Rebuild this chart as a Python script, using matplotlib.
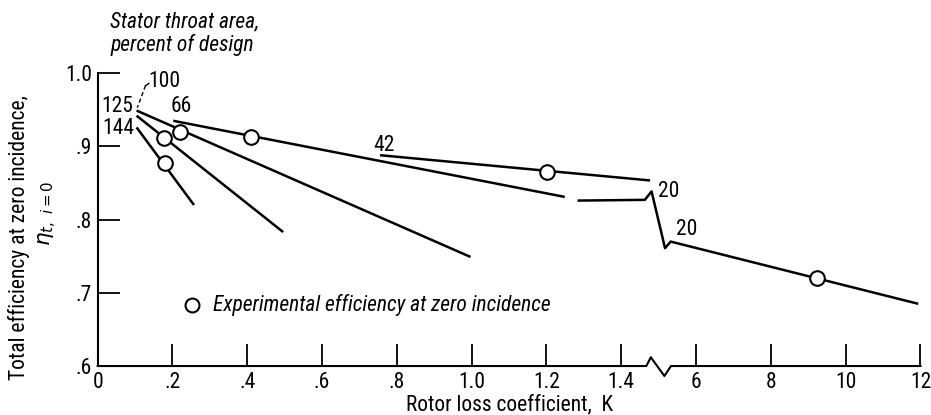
import numpy as np
import matplotlib
matplotlib.use("Agg")
import matplotlib.pyplot as plt
from matplotlib import font_manager as fm
from matplotlib.ticker import FixedLocator, FixedFormatter

# ---------------- data ----------------
# Lines of constant stator throat area (percent of design)
k_144 = [0.104, 0.2575]
e_144 = [0.926, 0.820]
k_125 = [0.104, 0.496]
e_125 = [0.942, 0.783]
k_100 = [0.104, 0.997]
e_100 = [0.949, 0.749]
k_66 = [0.202, 1.249]
e_66 = [0.935, 0.831]
k_42 = [0.755, 1.477]
e_42 = [0.888, 0.8535]
k_20 = [1.283, 1.463, 1.481, 5.17, 5.32, 11.94]
e_20 = [0.826, 0.827, 0.8385, 0.761, 0.770, 0.685]

# Experimental efficiency at zero incidence
k_exp = [0.18, 0.178, 0.22, 0.409, 1.2005, 9.24]
e_exp = [0.877, 0.912, 0.920, 0.9135, 0.865, 0.720]

x_ticks = [0, 0.2, 0.4, 0.6, 0.8, 1.0, 1.2, 1.4, 6, 8, 10, 12]
x_ticklabels = ["0", ".2", ".4", ".6", ".8", "1.0", "1.2", "1.4", "6", "8", "10", "12"]
y_ticks = [0.6, 0.7, 0.8, 0.9, 1.0]
y_ticklabels = [".6", ".7", ".8", ".9", "1.0"]

# axis break (baseline zig-zag) in K units
brk_k = [1.467, 1.479, 5.152, 5.33]
brk_e = [0.6, 0.612, 0.5864, 0.6]

# ---------------- font choice ----------------
def pick_font():
    for fam in ["Liberation Sans Narrow", "Roboto Condensed", "Open Sans Condensed"]:
        try:
            fm.findfont(fm.FontProperties(family=fam), fallback_to_default=False)
            return fam, "normal"
        except Exception:
            pass
    return "DejaVu Sans", "condensed"

FAM, STR = pick_font()
plt.rcParams["font.family"] = [FAM, "DejaVu Sans"]
plt.rcParams["font.stretch"] = STR
plt.rcParams["mathtext.fontset"] = "dejavusans"

FS = 15.5

# ---------------- broken x scale ----------------
def fwd(k):
    k = np.asarray(k, dtype=float)
    return np.where(k <= 1.5, k / 0.2, np.where(k >= 5, 5 + k / 2.0, 7.5))

def inv(p):
    p = np.asarray(p, dtype=float)
    return np.where(p <= 7.5, p * 0.2, 2.0 * (p - 5))

fig = plt.figure(figsize=(9.31, 4.15), dpi=100)
ax = fig.add_axes([0.1049, 0.118, 0.8838, 0.7056])
ax.set_xscale("function", functions=(fwd, inv))
ax.set_xlim(0, 12)
ax.set_ylim(0.6, 1.0)

LW = 1.8
for kk, ee in [(k_144, e_144), (k_125, e_125), (k_100, e_100),
               (k_66, e_66), (k_42, e_42), (k_20, e_20)]:
    ax.plot(kk, ee, color="black", lw=LW, solid_capstyle="butt", zorder=3)

ax.plot(k_exp, e_exp, linestyle="none", marker="o", ms=10.5, mfc="white",
        mec="black", mew=1.5, zorder=4)

# spines / ticks
for s in ["top", "right", "bottom"]:
    ax.spines[s].set_visible(False)
ax.spines["left"].set_linewidth(1.5)

# baseline with break
base_k = [0.0] + brk_k + [12.0]
base_e = [0.6] + brk_e + [0.6]
ax.plot(base_k, base_e, color="black", lw=1.5, clip_on=False, zorder=5)

ax.xaxis.set_major_locator(FixedLocator(x_ticks))
ax.xaxis.set_major_formatter(FixedFormatter(x_ticklabels))
ax.xaxis.set_minor_locator(FixedLocator([]))
ax.yaxis.set_major_locator(FixedLocator(y_ticks))
ax.yaxis.set_major_formatter(FixedFormatter(y_ticklabels))
ax.tick_params(axis="both", direction="in", length=16, width=1.3,
               labelsize=FS, color="black")
ax.tick_params(axis="x", pad=4)
ax.tick_params(axis="y", pad=4)

# labels
ax.set_xlabel("Rotor loss coefficient,  K", fontsize=FS, labelpad=1)
fig.text(19 / 931, 1 - 238 / 415, "Total efficiency at zero incidence,",
         rotation=90, ha="center", va="center", fontsize=FS)
fig.text(48 / 931, 1 - 213 / 415, r"$\eta_{t,\ i=0}$",
         rotation=90, ha="center", va="center", fontsize=FS)

fig.text(110 / 931, 1 - 34 / 415, "Stator throat area,\npercent of design",
         ha="left", va="center", fontsize=FS, style="italic", linespacing=1.1)

# curve labels
ax.text(0.178, 0.988, "100", ha="center", va="center", fontsize=FS)
ax.plot([0.137, 0.128], [0.986, 0.983], color="black", lw=1.0)
ax.plot([0.128, 0.106], [0.983, 0.953], color="black", lw=1.0, dashes=(3, 2))
ax.text(0.095, 0.955, "125", ha="right", va="center", fontsize=FS)
ax.text(0.097, 0.924, "144", ha="right", va="center", fontsize=FS)
ax.text(0.223, 0.955, "66", ha="center", va="center", fontsize=FS)
ax.text(0.766, 0.901, "42", ha="center", va="center", fontsize=FS)
ax.text(5.28, 0.838, "20", ha="center", va="center", fontsize=FS)
ax.text(5.76, 0.786, "20", ha="center", va="center", fontsize=FS)

# legend
ax.plot([0.253], [0.683], linestyle="none", marker="o", ms=10, mfc="white",
        mec="black", mew=1.5)
ax.text(0.309, 0.684, "Experimental efficiency at zero incidence",
        ha="left", va="center", fontsize=FS, style="italic")

fig.savefig("out.png", dpi=100)
